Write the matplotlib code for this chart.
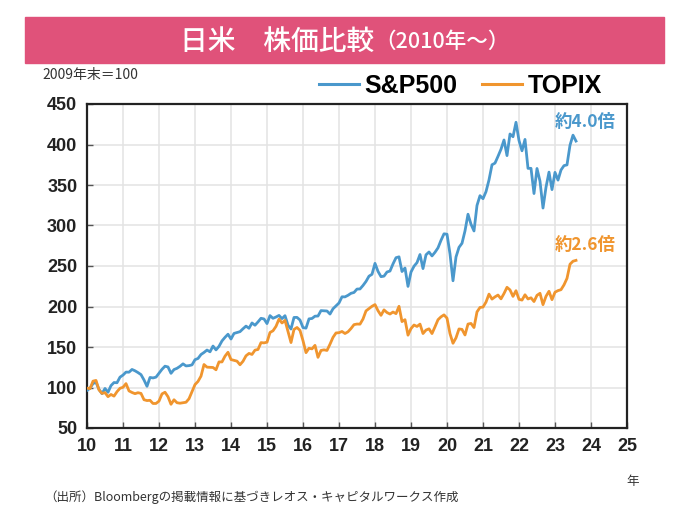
import numpy as np
import pandas as pd
import matplotlib
matplotlib.use('Agg')
import matplotlib.pyplot as plt
from matplotlib.patches import Rectangle
from matplotlib.lines import Line2D

# month-end closes, Jan 2010 - Aug 2023
sp500 = [1073.9, 1104.5, 1169.4, 1186.7, 1089.4, 1030.7, 1101.6, 1049.3, 1141.2, 1183.3, 1180.6, 1257.6,
         1286.1, 1327.2, 1325.8, 1363.6, 1345.2, 1320.6, 1292.3, 1219.0, 1131.4, 1253.3, 1246.9, 1257.6,
         1312.4, 1365.7, 1408.5, 1397.9, 1310.3, 1362.2, 1379.3, 1406.6, 1440.7, 1412.2, 1416.2, 1426.2,
         1498.1, 1514.7, 1569.2, 1597.6, 1630.7, 1606.3, 1685.7, 1633.0, 1681.6, 1756.5, 1805.8, 1848.4,
         1782.6, 1859.5, 1872.3, 1883.9, 1923.6, 1960.2, 1930.7, 2003.4, 1972.3, 2018.1, 2067.6, 2058.9,
         1995.0, 2104.5, 2067.9, 2085.5, 2107.4, 2063.1, 2103.8, 1972.2, 1920.0, 2079.4, 2080.4, 2043.9,
         1940.2, 1932.2, 2059.7, 2065.3, 2097.0, 2098.9, 2173.6, 2171.0, 2168.3, 2126.2, 2198.8, 2238.8,
         2278.9, 2363.6, 2362.7, 2384.2, 2411.8, 2423.4, 2470.3, 2471.7, 2519.4, 2575.3, 2647.6, 2673.6,
         2823.8, 2713.8, 2640.9, 2648.1, 2705.3, 2718.4, 2816.3, 2901.5, 2914.0, 2711.7, 2760.2, 2506.9,
         2704.1, 2784.5, 2834.4, 2945.8, 2752.1, 2941.8, 2980.4, 2926.5, 2976.7, 3037.6, 3141.0, 3230.8,
         3225.5, 2954.2, 2584.6, 2912.4, 3044.3, 3100.3, 3271.1, 3500.3, 3363.0, 3270.0, 3621.6, 3756.1,
         3714.2, 3811.2, 3972.9, 4181.2, 4204.1, 4297.5, 4395.3, 4522.7, 4307.5, 4605.4, 4567.0, 4766.2,
         4515.6, 4373.9, 4530.4, 4131.9, 4132.2, 3785.4, 4130.3, 3955.0, 3585.6, 3872.0, 4080.1, 3839.5,
         4076.6, 3970.2, 4109.3, 4169.5, 4179.8, 4450.4, 4589.0, 4507.7]
topix = [901.1, 894.1, 978.8, 987.0, 880.5, 841.4, 850.2, 804.7, 829.5, 810.9, 860.9, 898.8,
         910.1, 951.3, 869.4, 851.9, 838.5, 849.2, 841.4, 770.6, 761.2, 764.1, 728.5, 728.6,
         755.3, 836.0, 854.4, 804.3, 719.5, 770.1, 736.9, 731.6, 737.4, 742.3, 781.5, 859.8,
         940.3, 975.7, 1034.7, 1165.1, 1135.8, 1133.8, 1131.7, 1106.1, 1194.1, 1194.3, 1258.7, 1302.3,
         1220.6, 1211.7, 1202.9, 1162.4, 1201.4, 1262.6, 1289.4, 1278.0, 1326.3, 1333.6, 1410.3, 1407.5,
         1415.1, 1523.9, 1543.1, 1592.8, 1673.7, 1630.4, 1659.5, 1537.1, 1411.2, 1558.2, 1580.3, 1547.3,
         1432.1, 1297.9, 1347.2, 1340.6, 1379.8, 1245.8, 1322.7, 1329.5, 1322.8, 1393.0, 1469.4, 1518.6,
         1521.7, 1535.3, 1512.6, 1531.8, 1568.4, 1611.9, 1618.6, 1617.4, 1674.8, 1766.0, 1792.1, 1817.6,
         1836.7, 1768.2, 1716.3, 1777.2, 1747.5, 1730.9, 1753.3, 1735.4, 1817.3, 1646.1, 1667.5, 1494.1,
         1567.5, 1607.7, 1591.6, 1617.9, 1512.3, 1551.1, 1565.1, 1511.9, 1587.8, 1667.0, 1699.4, 1721.4,
         1684.4, 1510.9, 1403.0, 1464.0, 1563.7, 1558.8, 1496.1, 1618.2, 1625.5, 1579.3, 1754.9, 1804.7,
         1808.8, 1864.5, 1954.0, 1898.2, 1923.0, 1943.6, 1901.1, 1960.7, 2030.2, 2001.2, 1928.4, 1992.3,
         1895.9, 1886.9, 1946.4, 1899.6, 1912.7, 1870.8, 1940.3, 1963.2, 1835.9, 1929.4, 1985.6, 1891.7,
         1975.3, 1993.3, 2003.5, 2057.5, 2130.6, 2288.6, 2322.6, 2332.0]
sp500_base = 1115.1   # end of 2009
topix_base = 907.6

x_ticks = list(range(10, 26))
y_ticks = [50, 100, 150, 200, 250, 300, 350, 400, 450]

blue = '#4a98cc'
orange = '#f0952e'
jp = ['Noto Sans CJK JP', 'DejaVu Sans']
num = ['Liberation Sans Narrow', 'Liberation Sans', 'DejaVu Sans']

months = pd.date_range('2010-01-01', periods=len(sp500), freq='MS')
xs = months.year - 2000 + (months.month - 1) / 12
sp_idx = np.array(sp500) / sp500_base * 100
tp_idx = np.array(topix) / topix_base * 100

fig = plt.figure(figsize=(6.86, 5.15), dpi=100)
ax = fig.add_axes([87/686, 1 - 428/515, 540/686, 324/515])

ax.plot(xs, sp_idx, color=blue, lw=2.0, zorder=3)
ax.plot(xs, tp_idx, color=orange, lw=2.0, zorder=3)

ax.set_xlim(10, 25)
ax.set_ylim(50, 450)
ax.set_xticks(x_ticks)
ax.set_yticks(y_ticks)
ax.grid(True, color='#e3e3e3', lw=1.1, zorder=0)
ax.tick_params(direction='in', length=4, width=1, color='#555555', pad=7)
for lab in ax.get_xticklabels() + ax.get_yticklabels():
    lab.set_family(num)
    lab.set_fontweight('bold')
    lab.set_fontsize(13)
    lab.set_color('#222222')
for sp in ax.spines.values():
    sp.set_color('#222222')
    sp.set_linewidth(1.6)

ax.text(23.85, 428, '約4.0倍', color=blue, fontsize=12.5, fontweight='bold',
        family=jp, ha='center', va='center')
ax.text(23.85, 276, '約2.6倍', color=orange, fontsize=12.5, fontweight='bold',
        family=jp, ha='center', va='center')

# title bar
fig.patches.append(Rectangle((25/686, 1 - 63/515), 639/686, 46/515,
                             transform=fig.transFigure, color='#e0527a', zorder=0))
fig.text(374/686, 1 - 41/515, '日米　株価比較', color='white', fontsize=20,
         fontweight='medium', family=jp, ha='right', va='center')
fig.text(374/686, 1 - 42/515, '（2010年～）', color='white', fontsize=15.5,
         fontweight='medium', family=jp, ha='left', va='center')

fig.text(42/686, 1 - 75/515, '2009年末＝100', fontsize=10, family=jp,
         color='#333333', ha='left', va='center')

handles = [Line2D([], [], color=blue, lw=2.2), Line2D([], [], color=orange, lw=2.2)]
leg = fig.legend(handles, ['S&P500', 'TOPIX'], loc='center right',
                 bbox_to_anchor=(614/686, 1 - 86/515), ncol=2, frameon=False,
                 handlelength=1.6, handletextpad=0.2, columnspacing=1.0, borderpad=0,
                 prop={'family': num, 'weight': 'bold', 'size': 18})

fig.text(633/686, 1 - 482/515, '年', fontsize=9, family=jp, color='#333333',
         ha='center', va='center')
fig.text(44/686, 1 - 497/515, '（出所）Bloombergの掲載情報に基づきレオス・キャピタルワークス作成',
         fontsize=9, family=jp, color='#333333', ha='left', va='center')

fig.savefig('out.png', dpi=100)
